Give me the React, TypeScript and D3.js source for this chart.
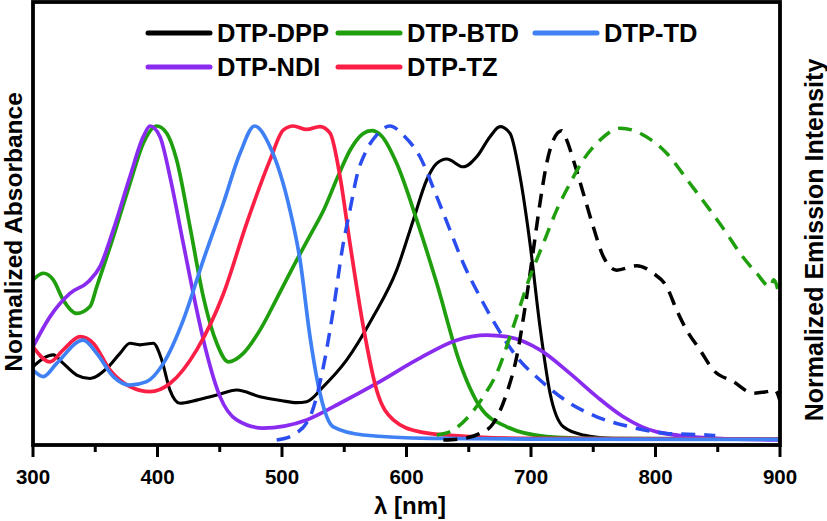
import React from "react";
import * as d3 from "d3";

// ---------- data (wavelength nm, normalized value) ----------
const dppAbsX = [300,308.3,316.3,324.3,335.1,345.8,359.2,369.9,377.9,385.9,396.6,403.4,410,418.1,431.5,447.6,463.6,482.3,500,511.8,519.8,533.2,552,573.3,592.1,605.5,616.2,624.3,632.3,645.6,656.4,667.1,675.1,683.1,691.2,699.2,707.2,715.3,726,742,766.1,800,900];
const dppAbsY = [.233,.26,.271,.244,.207,.196,.228,.276,.308,.303,.308,.255,.159,.117,.127,.143,.159,.138,.125,.119,.122,.17,.255,.393,.541,.701,.828,.881,.895,.87,.902,.966,.998,.977,.839,.626,.361,.149,.042,.016,.005,.003,.002];

const btdAbsX = [300,308.3,316.3,324.3,335.1,345.8,351.2,364.5,377.9,388.6,399.4,407.4,415.4,426.1,436.8,447.6,456.9,468.9,482.3,497,511.8,523,533.2,545,555,565,572,580,592.1,608.2,624.3,643,659,680.5,712.6,750,900];
const btdAbsY = [.51,.531,.51,.446,.403,.425,.488,.647,.817,.945,1,.977,.892,.679,.456,.308,.249,.276,.35,.46,.573,.655,.73,.84,.925,.975,.985,.968,.881,.701,.499,.244,.106,.042,.011,.005,.003];

const tdAbsX = [300,308.3,319,340.4,351.2,364.5,377.9,391.3,404.7,420.7,436.8,452.9,466.3,478,490.4,506.4,514.5,522.5,530.5,541.2,565.3,618.9,700,900];
const tdAbsY = [.223,.202,.244,.318,.276,.202,.175,.186,.244,.382,.573,.754,.913,1,.934,.732,.573,.329,.149,.042,.016,.005,.003,.002];

const ndiAbsX = [300,313.7,329.7,344.4,353.8,364.5,377.9,388.6,394,402,410,420.7,431.5,439.5,450.2,463.6,484.7,519.8,546.6,576,608.2,640.3,664.4,680.5,707.2,731.3,752.8,774.1,801,849,900];
const ndiAbsY = [.297,.393,.467,.504,.552,.669,.839,.966,1,.966,.839,.626,.414,.276,.138,.064,.038,.064,.117,.18,.255,.318,.334,.329,.287,.212,.138,.074,.026,.005,0];

const tzAbsX = [300,313.7,324.3,337.8,348.4,361.8,377.9,394,410,431.5,452.9,471.6,490.4,501,509,519.8,530.5,538.6,546.6,554.6,565.3,576,589.4,610.8,632.3,700,900];
const tzAbsY = [.297,.249,.287,.329,.308,.223,.17,.154,.18,.287,.465,.69,.892,.987,1,.989,.998,.977,.839,.626,.361,.159,.064,.026,.016,.005,.003];

const tdEmX = [495.7,509,522.5,533.2,541.2,549.2,554.6,560,568,576,586.7,597.4,610.8,624.3,634.9,645.6,659,672.4,688.5,707.2,731.3,752.8,779.5,809,841.1,848];
const tdEmY = [0,.016,.074,.233,.414,.626,.732,.839,.924,.971,1,.971,.902,.775,.669,.563,.456,.361,.265,.191,.117,.074,.042,.021,.016,.014];

const dppEmX = [629.6,645.6,659,669.7,680.5,688.5,696.5,701.9,707.2,712.6,717.9,724.7,728.7,734,742,750,758.1,768.8,784.9,798.2,809,817,825,835.7,846.4,862.5,878.6,889.3,896,900];
const dppEmY = [0,.005,.021,.053,.149,.265,.456,.605,.754,.881,.955,.985,.955,.892,.786,.679,.584,.541,.555,.531,.488,.414,.35,.287,.223,.186,.149,.154,.159,.125];

const btdEmX = [624.3,637.6,651,661.7,672.4,685.8,699.2,709.9,720.6,731.3,742,755.4,771.5,784.9,790.2,803.6,809,827.7,843.8,857.2,867.9,881.3,892,895,900];
const btdEmY = [.016,.032,.08,.138,.212,.361,.52,.626,.732,.817,.892,.955,.993,.982,.971,.934,.913,.817,.732,.658,.595,.531,.488,.51,.446];

const xTicks = [300,400,500,600,700,800,900];
const xMinorTicks = [350,450,550,650,750,850];

const legendNames = ["DTP-DPP","DTP-BTD","DTP-TD","DTP-NDI","DTP-TZ"];

const BLACK = "#000000";
const GREEN = "#1f9e0e";
const BLUE = "#3f80f5";
const BLUE_DASH = "#2b4df0";
const PURPLE = "#8a2bf0";
const RED = "#fb1f45";

const FONT = "'Liberation Sans', Arial, Helvetica, sans-serif";

const W = 827, H = 521;
const L = 33, R = 780, T = 2, B = 445;

export default function App() {
  const x = d3.scaleLinear().domain([300, 900]).range([L, R]);
  const y = d3.scaleLinear().domain([0, 1]).range([440, 126]);
  const line = d3.line<[number, number]>()
    .x(d => x(d[0]))
    .y(d => y(d[1]))
    .curve(d3.curveMonotoneX);
  const zip = (xs: number[], ys: number[]) => xs.map((v, i) => [v, ys[i]] as [number, number]);

  const series = [
    { xs: dppAbsX, ys: dppAbsY, color: BLACK, dash: null, w: 3.1 },
    { xs: btdAbsX, ys: btdAbsY, color: GREEN, dash: null, w: 3.7 },
    { xs: ndiAbsX, ys: ndiAbsY, color: PURPLE, dash: null, w: 3.7 },
    { xs: tzAbsX, ys: tzAbsY, color: RED, dash: null, w: 3.7 },
    { xs: tdAbsX, ys: tdAbsY, color: BLUE, dash: null, w: 3.7 },
    { xs: tdEmX, ys: tdEmY, color: BLUE_DASH, dash: "14,9", w: 3.5 },
    { xs: dppEmX, ys: dppEmY, color: BLACK, dash: "14,9", w: 3.5 },
    { xs: btdEmX, ys: btdEmY, color: GREEN, dash: "14,9", w: 3.5 },
  ];

  const legend = [
    { name: legendNames[0], color: BLACK, lx: 148, ly: 33 },
    { name: legendNames[1], color: GREEN, lx: 338, ly: 33 },
    { name: legendNames[2], color: BLUE, lx: 535, ly: 33 },
    { name: legendNames[3], color: PURPLE, lx: 148, ly: 67 },
    { name: legendNames[4], color: RED, lx: 338, ly: 67 },
  ];

  return (
    <div style={{ position: "fixed", left: 0, top: 0, width: W, height: H, background: "#fff" }}>
      <svg width={W} height={H} style={{ display: "block" }}>
        <defs>
          <clipPath id="plotclip">
            <rect x={L} y={T} width={R - L} height={B - T} />
          </clipPath>
        </defs>
        <g clipPath="url(#plotclip)">
          {series.map((s, i) => (
            <path key={i} d={line(zip(s.xs, s.ys)) || ""} fill="none" stroke={s.color}
              strokeWidth={s.w} strokeDasharray={s.dash || undefined} strokeLinejoin="round" />
          ))}
        </g>
        {/* frame */}
        <rect x={L} y={T} width={R - L} height={B - T} fill="none" stroke="#000" strokeWidth={3.8} />
        {/* ticks */}
        {xTicks.map(t => (
          <line key={"M" + t} x1={x(t)} x2={x(t)} y1={B} y2={B + 12} stroke="#000" strokeWidth={3} />
        ))}
        {xMinorTicks.map(t => (
          <line key={"m" + t} x1={x(t)} x2={x(t)} y1={B} y2={B + 7} stroke="#000" strokeWidth={3} />
        ))}
        {xTicks.map(t => (
          <text key={"l" + t} x={x(t)} y={484} textAnchor="middle" fontFamily={FONT}
            fontWeight="bold" fontSize={20.5} fill="#000">{t}</text>
        ))}
        <text x={410} y={514} textAnchor="middle" fontFamily={FONT} fontWeight="bold" fontSize={24}>λ [nm]</text>
        <text transform={`translate(22,232) rotate(-90)`} textAnchor="middle" fontFamily={FONT}
          fontWeight="bold" fontSize={24.5}>Normalized Absorbance</text>
        <text transform={`translate(823,240) rotate(-90)`} textAnchor="middle" fontFamily={FONT}
          fontWeight="bold" fontSize={25}>Normalized Emission Intensity</text>
        {/* legend */}
        {legend.map(l => (
          <g key={l.name}>
            <line x1={l.lx} x2={l.lx + 62} y1={l.ly} y2={l.ly} stroke={l.color} strokeWidth={5} strokeLinecap="round" />
            <text x={l.lx + 69} y={l.ly + 9} fontFamily={FONT} fontWeight="bold" fontSize={25.5} fill="#000">{l.name}</text>
          </g>
        ))}
      </svg>
    </div>
  );
}
